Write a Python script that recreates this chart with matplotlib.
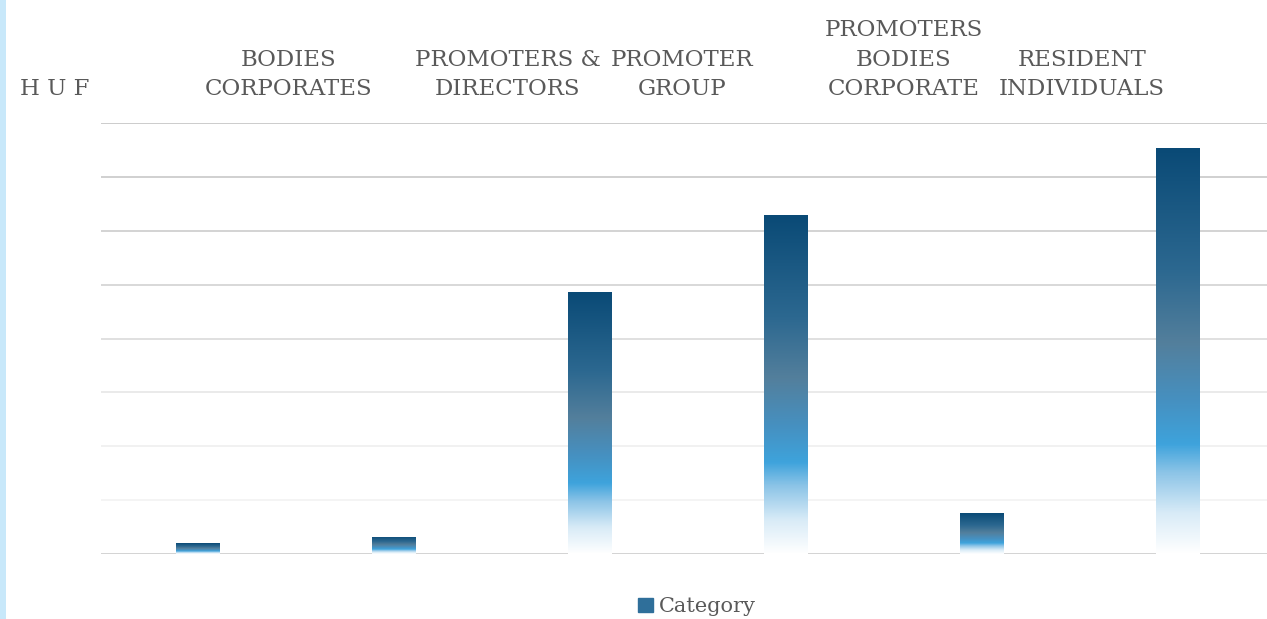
import numpy as np
import matplotlib.pyplot as plt
from matplotlib.colors import LinearSegmentedColormap
from matplotlib.patches import Rectangle, Patch

# data (no axis values shown, so units are gridline steps)
categories = ["H U F", "BODIES\nCORPORATES", "PROMOTERS &\nDIRECTORS", "PROMOTER\nGROUP",
              "PROMOTERS\nBODIES\nCORPORATE", "RESIDENT\nINDIVIDUALS"]
values = [0.20, 0.32, 4.86, 6.29, 0.76, 7.53]
label_shift = [-0.73, -0.54, -0.42, -0.53, -0.40, -0.49]

grid_colors = ["#cccccc", "#f2f2f2", "#efefef", "#e6e6e6", "#dadada",
               "#d2d2d2", "#cccccc", "#c8c8c8", "#c4c4c4"]

cmap = LinearSegmentedColormap.from_list("bar", [
    (0.0, "#ffffff"), (0.1, "#d8ebf7"), (0.2, "#8cc4e7"), (0.27, "#3ea3dc"),
    (0.38, "#4690c0"), (0.52, "#537f9c"), (0.7, "#2c6890"), (1.0, "#0a4a76")])

fig = plt.figure(figsize=(12.67, 6.19), dpi=100)
ax = fig.add_axes([101/1267, 65/619, 1 - 101/1267, 431/619])

x = np.arange(len(values))
bars = ax.bar(x, values, width=0.224, color="none", edgecolor="none", zorder=3)
grad = np.linspace(0, 1, 256).reshape(-1, 1)
for b in bars:
    x0 = b.get_x()
    img = ax.imshow(grad, cmap=cmap, origin="lower", aspect="auto", zorder=3,
                    extent=(x0, x0 + b.get_width(), 0, b.get_height()))
    img.set_clip_path(b)

ax.set_xlim(-0.495, 5.454)
ax.set_ylim(0, 8)
ax.set_yticks(range(9))
ax.grid(axis="y", linewidth=1.2)
for i, gl in enumerate(ax.get_ygridlines()):
    gl.set_color(grid_colors[i])
ax.tick_params(left=False, bottom=False, labelleft=False, labelbottom=False)
for s in ax.spines.values():
    s.set_visible(False)

for i, lab in enumerate(categories):
    ax.text(x[i] + label_shift[i], 1.053, lab, transform=ax.get_xaxis_transform(),
            ha="center", va="bottom", fontsize=16.5, family="DejaVu Serif",
            color="#595959", linespacing=1.45, clip_on=False)

fig.patches.append(Rectangle((0, 0), 6/1267, 1, transform=fig.transFigure,
                             facecolor="#c8e8fa", edgecolor="none"))

handle = Patch(facecolor="#2f6f9a", edgecolor="#2f6f9a")
fig.legend([handle], ["Category"], loc="lower center", bbox_to_anchor=(0.55, -0.026),
           frameon=False, handlelength=0.7, handleheight=0.7, handletextpad=0.3,
           prop={"family": "DejaVu Serif", "size": 15}, labelcolor="#595959")

fig.savefig("out.png", dpi=100)
